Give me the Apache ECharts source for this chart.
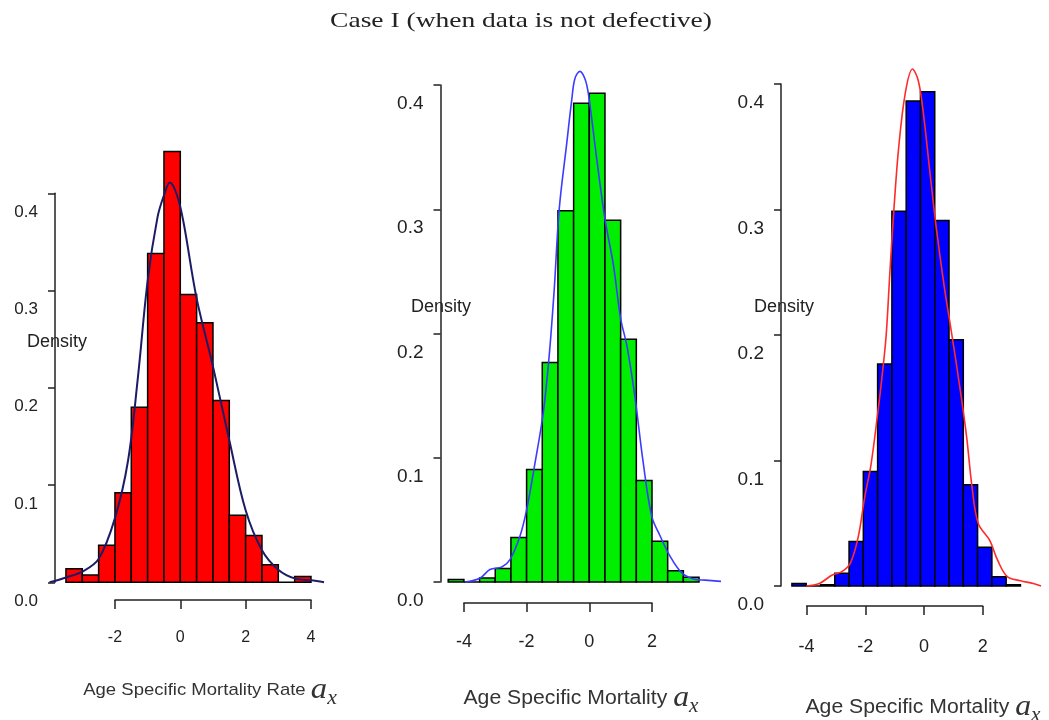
<!DOCTYPE html>
<html>
<head>
<meta charset="utf-8">
<title>Case I (when data is not defective)</title>
<script src="https://cdn.jsdelivr.net/npm/echarts@6/dist/echarts.min.js"></script>
<style>
  html, body { margin: 0; padding: 0; background: #fff; }
  #main { width: 1049px; height: 720px; }
</style>
</head>
<body>
<div id="main"></div>
<script>
// --- data ---
var binWidth = 0.5;

// panel 1 (red bars, navy density line)
var bins1 = [-3.5, -3, -2.5, -2, -1.5, -1, -0.5, 0, 0.5, 1, 1.5, 2, 2.5, 3, 3.5];
var dens1 = [0.014, 0.0075, 0.038, 0.092, 0.18, 0.338, 0.443, 0.296, 0.267, 0.187, 0.069, 0.048, 0.018, 0, 0.006];
var kdeX1 = [-4.0, -3.5, -3.0, -2.5, -2.0, -1.6, -1.3, -1.0, -0.7, -0.5, -0.32, -0.1, 0.1, 0.5, 1.0, 1.5, 2.0, 2.5, 3.0, 3.5, 4.0, 4.4];
var kdeY1 = [0.0, 0.005, 0.011, 0.024, 0.066, 0.125, 0.21, 0.31, 0.375, 0.398, 0.411, 0.398, 0.37, 0.292, 0.222, 0.146, 0.074, 0.033, 0.013, 0.004, 0.002, 0.0];

// panel 2 (green bars, blue density line)
var bins2 = [-4.5, -4, -3.5, -3, -2.5, -2, -1.5, -1, -0.5, 0, 0.5, 1, 1.5, 2, 2.5, 3];
var dens2 = [0.002, 0, 0.0032, 0.0108, 0.0358, 0.0906, 0.1766, 0.2987, 0.3853, 0.3933, 0.2912, 0.1954, 0.0817, 0.0328, 0.0091, 0.0038];
var kdeX2 = [-3.97, -3.49, -3.17, -2.79, -2.53, -2.21, -2.0, -1.73, -1.47, -1.28, -1.12, -0.96, -0.72, -0.56, -0.46, -0.3, -0.14, -0.03, 0.24, 0.5, 0.77, 1.0, 1.2, 1.45, 1.72, 1.99, 2.26, 2.57, 2.95, 3.32, 3.7, 4.2];
var kdeY2 = [0.0, 0.003, 0.01, 0.012, 0.018, 0.037, 0.058, 0.096, 0.136, 0.182, 0.235, 0.3, 0.353, 0.388, 0.405, 0.411, 0.405, 0.393, 0.34, 0.292, 0.255, 0.212, 0.19, 0.15, 0.096, 0.053, 0.037, 0.021, 0.0073, 0.0024, 0.0015, 0.0005];

// panel 3 (blue bars, red density line)
var bins3 = [-4.5, -4, -3.5, -3, -2.5, -2, -1.5, -1, -0.5, 0, 0.5, 1, 1.5, 2, 2.5, 3];
var dens3 = [0.002, 0, 0.001, 0.0101, 0.0354, 0.0912, 0.1769, 0.2987, 0.3865, 0.3939, 0.2913, 0.1963, 0.0806, 0.0309, 0.0074, 0.001];
var kdeX3 = [-4.0, -3.54, -3.09, -2.75, -2.46, -2.18, -1.95, -1.73, -1.5, -1.33, -1.2, -1.07, -0.93, -0.76, -0.53, -0.28, -0.08, 0.09, 0.32, 0.545, 0.83, 1.1, 1.4, 1.62, 1.8, 2.02, 2.42, 2.7, 3.04, 3.5, 3.95, 4.22];
var kdeY3 = [0.0, 0.002, 0.0087, 0.0114, 0.018, 0.039, 0.071, 0.097, 0.137, 0.17, 0.2, 0.25, 0.3, 0.35, 0.393, 0.412, 0.403, 0.379, 0.332, 0.287, 0.239, 0.2, 0.155, 0.118, 0.08, 0.05, 0.0365, 0.0206, 0.0074, 0.0042, 0.002, 0.0];

var xTicks1 = [-2, 4];      // first / last tick of panel 1
var xTicks23 = [-4, 2];     // first / last tick of panels 2 and 3
var yTicks = [0, 0.4];
var tickStep = { x: 2, y: 0.1 };

var titleText = 'Case I (when data is not defective)';
var xTitles = ['Age Specific Mortality Rate ', 'Age Specific Mortality ', 'Age Specific Mortality '];

// --- layout of each panel (pixel origin and scale) ---
var panels = [
  { x0: 180.3, ppu: 32.67, base: 582.3, ppd: 972.5, yAxisX: 55, xAxisY: 600, labMargin: 30,
    bins: bins1, dens: dens1, kx: kdeX1, ky: kdeY1, ticks: xTicks1,
    fill: '#ff0000', line: '#1c1c66', lw: 2, tickFont: 16, yTickFont: 17,
    dens_lbl: [27, 342], title: [210, 690], titleFont: 17, titleScale: 1.09 },
  { x0: 589.3, ppu: 31.35, base: 582, ppd: 1242.5, yAxisX: 440.5, xAxisY: 603, labMargin: 30,
    bins: bins2, dens: dens2, kx: kdeX2, ky: kdeY2, ticks: xTicks23,
    fill: '#00ee00', line: '#3c3cff', lw: 1.6, tickFont: 18, yTickFont: 19,
    dens_lbl: [411, 307], title: [581, 698], titleFont: 20, titleScale: 1.06 },
  { x0: 924, ppu: 29.35, base: 586, ppd: 1255, yAxisX: 781, xAxisY: 606, labMargin: 32,
    bins: bins3, dens: dens3, kx: kdeX3, ky: kdeY3, ticks: xTicks23,
    fill: '#0000ff', line: '#ff2a2a', lw: 1.6, tickFont: 18, yTickFont: 19,
    dens_lbl: [754, 307], title: [923, 707], titleFont: 20, titleScale: 1.06 }
];

var X_MIN = -4.5, X_MAX = 4.5, Y_MAX = 0.46;
var sans = 'Liberation Sans, Arial, sans-serif';
var serif = 'Liberation Serif, Times New Roman, serif';

var grids = [], xAxes = [], yAxes = [], series = [], texts = [];

panels.forEach(function (p, k) {
  var g = grids.length;
  // plotting grid
  grids.push({
    left: p.x0 + X_MIN * p.ppu, width: (X_MAX - X_MIN) * p.ppu,
    top: p.base - Y_MAX * p.ppd, height: Y_MAX * p.ppd
  });
  xAxes.push({ gridIndex: g, type: 'value', min: X_MIN, max: X_MAX, show: false });
  yAxes.push({ gridIndex: g, type: 'value', min: 0, max: Y_MAX, show: false });

  // detached x axis (R style)
  grids.push({
    left: p.x0 + p.ticks[0] * p.ppu, width: (p.ticks[1] - p.ticks[0]) * p.ppu,
    top: p.xAxisY - 10, height: 10
  });
  xAxes.push({
    gridIndex: g + 1, type: 'value', min: p.ticks[0], max: p.ticks[1], interval: tickStep.x,
    axisLine: { show: true, onZero: false, lineStyle: { color: '#222', width: 1.5 } },
    axisTick: { show: true, length: 9, lineStyle: { color: '#222', width: 1.5 } },
    axisLabel: { show: true, margin: p.labMargin, color: '#222', fontSize: p.tickFont, fontFamily: sans,
      showMinLabel: true, showMaxLabel: true },
    splitLine: { show: false }
  });
  yAxes.push({ gridIndex: g + 1, type: 'value', min: 0, max: 1, show: false });

  // detached y axis, labels sit a little below their ticks as in the source
  grids.push({
    left: p.yAxisX, width: 10,
    top: p.base - yTicks[1] * p.ppd, height: (yTicks[1] - yTicks[0]) * p.ppd
  });
  xAxes.push({ gridIndex: g + 2, type: 'value', min: 0, max: 1, show: false });
  yAxes.push({
    gridIndex: g + 2, type: 'value', min: yTicks[0], max: yTicks[1], interval: tickStep.y,
    axisLine: { show: true, onZero: false, lineStyle: { color: '#222', width: 1.5 } },
    axisTick: { show: true, length: 7, lineStyle: { color: '#222', width: 1.5 } },
    axisLabel: { show: true, margin: 17, color: '#222', fontSize: p.yTickFont, fontFamily: sans,
      formatter: function (v) { return '{v|' + v.toFixed(1) + '}'; },
      rich: { v: { padding: [38, 0, 0, 0], fontSize: p.yTickFont, fontFamily: sans, color: '#222' } } },
    splitLine: { show: false }
  });

  // histogram bars
  series.push({
    type: 'custom', xAxisIndex: g, yAxisIndex: g, z: 2,
    data: p.bins.map(function (b, i) { return [b, b + binWidth, p.dens[i]]; }),
    encode: { x: [0, 1], y: 2 },
    renderItem: (function (fill) {
      return function (params, api) {
        var a = api.coord([api.value(0), api.value(2)]);
        var b = api.coord([api.value(1), 0]);
        return {
          type: 'rect',
          shape: { x: a[0], y: a[1], width: b[0] - a[0], height: b[1] - a[1] },
          style: { fill: fill, stroke: '#000', lineWidth: 1.5 }
        };
      };
    })(p.fill)
  });

  // density line
  series.push({
    type: 'line', xAxisIndex: g, yAxisIndex: g, z: 3,
    data: p.kx.map(function (x, i) { return [x, p.ky[i]]; }),
    smooth: 0.35, symbol: 'none', clip: false,
    lineStyle: { color: p.line, width: p.lw }
  });

  texts.push({
    type: 'text', x: p.dens_lbl[0], y: p.dens_lbl[1],
    style: { text: 'Density', font: '18px ' + sans, fill: '#222', align: 'left', verticalAlign: 'middle' }
  });
  texts.push({
    type: 'text', x: p.title[0], y: p.title[1], scaleX: p.titleScale,
    style: {
      text: xTitles[k] + '{a|a}{s|x}',
      font: p.titleFont + 'px ' + sans, fill: '#333', align: 'center', verticalAlign: 'middle',
      rich: {
        a: { fontFamily: serif, fontStyle: 'italic', fontSize: 30, fill: '#333' },
        s: { fontFamily: serif, fontStyle: 'italic', fontSize: 20, padding: [18, 0, 0, 0], fill: '#333' }
      }
    }
  });
});

texts.push({
  type: 'text', x: 521, y: 21, scaleX: 1.25,
  style: { text: titleText, font: '22px ' + serif, fill: '#222', align: 'center', verticalAlign: 'middle' }
});

var chart = echarts.init(document.getElementById('main'));
chart.setOption({
  animation: false,
  backgroundColor: '#fff',
  grid: grids,
  xAxis: xAxes,
  yAxis: yAxes,
  series: series,
  graphic: texts
});
</script>
</body>
</html>
